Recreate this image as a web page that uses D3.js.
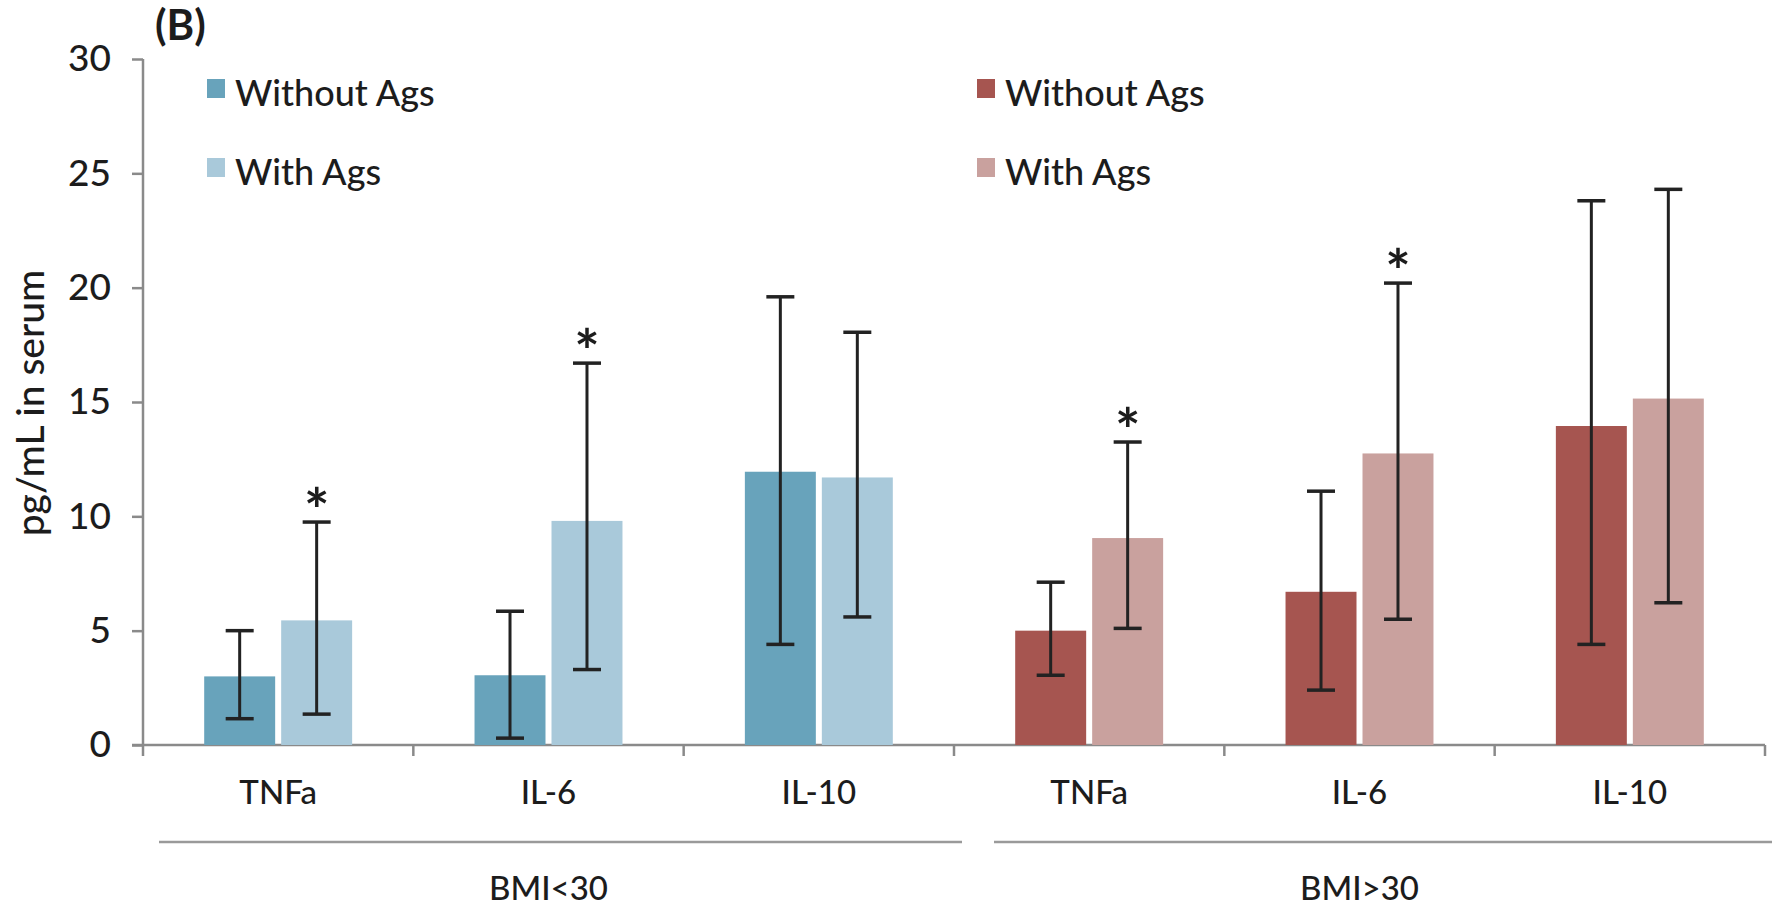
<!DOCTYPE html>
<html>
<head>
<meta charset="utf-8">
<script src="https://cdn.jsdelivr.net/npm/d3@7"></script>
<style>
  html, body { margin: 0; padding: 0; background: #fff; }
  svg { display: block; }
  text { font-family: Lato, "Open Sans", sans-serif; fill: #1c1c1c; font-weight: 500; }
</style>
</head>
<body>
<svg id="chart" width="1772" height="908"></svg>
<script>
// Serum cytokine levels (pg/mL), grouped by BMI class
const groups = ["BMI<30", "BMI>30"];
const cytokines = ["TNFa", "IL-6", "IL-10"];
const seriesNames = ["Without Ags", "With Ags"];
const yTicks = [0, 5, 10, 15, 20, 25, 30];

// one entry per (group, cytokine): BMI<30 TNFa, IL-6, IL-10, BMI>30 TNFa, IL-6, IL-10
const withoutAgs     = [3.0, 3.05, 11.95, 5.0, 6.7, 13.95];
const withoutAgsLow  = [1.15, 0.3, 4.4, 3.05, 2.4, 4.4];
const withoutAgsHigh = [5.0, 5.85, 19.6, 7.12, 11.1, 23.8];
const withAgs        = [5.45, 9.8, 11.7, 9.05, 12.75, 15.15];
const withAgsLow     = [1.35, 3.3, 5.6, 5.1, 5.5, 6.22];
const withAgsHigh    = [9.75, 16.7, 18.05, 13.25, 20.2, 24.3];
const withAgsSignificant = [true, true, false, true, true, false];

const groupColors = {
  "BMI<30": ["#68a3bb", "#a9c9da"],
  "BMI>30": ["#a65550", "#c9a19e"]
};

const svg = d3.select("#chart");

const categories = [];
groups.forEach(g => cytokines.forEach(c => categories.push({ group: g, cytokine: c, key: g + "|" + c })));

const rows = categories.map((cat, i) => ({
  ...cat,
  series: [
    { name: seriesNames[0], value: withoutAgs[i], low: withoutAgsLow[i], high: withoutAgsHigh[i], star: false },
    { name: seriesNames[1], value: withAgs[i], low: withAgsLow[i], high: withAgsHigh[i], star: withAgsSignificant[i] }
  ]
}));

const plotLeft = 143, plotRight = 1765, plotTop = 59, plotBottom = 745;

const x = d3.scaleBand().domain(categories.map(d => d.key)).range([plotLeft, plotRight]).padding(0);
const xInner = d3.scaleBand().domain(seriesNames).range([0, x.bandwidth()])
  .paddingInner(0.078).paddingOuter(0.795);
const y = d3.scaleLinear().domain([0, 30]).range([plotBottom, plotTop]);

// y axis
const yAxis = svg.append("g").attr("transform", `translate(${plotLeft},0)`)
  .call(d3.axisLeft(y).tickValues(yTicks).tickSize(11).tickPadding(21));
yAxis.select(".domain").attr("stroke", "#8a8a8a").attr("stroke-width", 2.5)
  .attr("d", `M0,${plotTop}V${plotBottom}`);
yAxis.selectAll(".tick line").attr("stroke", "#8a8a8a").attr("stroke-width", 2.5);
yAxis.selectAll(".tick text").style("font-size", "37px").style("font-family", "Lato, sans-serif")
  .style("font-weight", "500").attr("fill", "#1c1c1c");

// x axis with boundary ticks
const xAxisG = svg.append("g");
xAxisG.append("line")
  .attr("x1", plotLeft - 11).attr("x2", plotRight)
  .attr("y1", plotBottom).attr("y2", plotBottom)
  .attr("stroke", "#8a8a8a").attr("stroke-width", 2.5);
const boundaries = categories.map(d => x(d.key)).concat([x(categories[categories.length - 1].key) + x.bandwidth()]);
xAxisG.selectAll("line.bound").data(boundaries).join("line")
  .attr("class", "bound")
  .attr("x1", d => d).attr("x2", d => d)
  .attr("y1", plotBottom).attr("y2", plotBottom + 11)
  .attr("stroke", "#8a8a8a").attr("stroke-width", 2.5);

xAxisG.selectAll("text.cat").data(categories).join("text")
  .attr("class", "cat")
  .attr("x", d => x(d.key) + x.bandwidth() / 2)
  .attr("y", 804)
  .attr("text-anchor", "middle")
  .style("font-size", "33px")
  .text(d => d.cytokine);

// group brackets and labels
groups.forEach((g, gi) => {
  const keys = categories.filter(c => c.group === g).map(c => c.key);
  const x0 = x(keys[0]), x1 = x(keys[keys.length - 1]) + x.bandwidth();
  svg.append("line")
    .attr("x1", gi === 0 ? x0 + 16 : x0 + 40).attr("x2", gi === 0 ? x1 + 8 : 1772)
    .attr("y1", 842).attr("y2", 842)
    .attr("stroke", "#9a9a9a").attr("stroke-width", 2.5);
  svg.append("text")
    .attr("x", (x0 + x1) / 2).attr("y", 900)
    .attr("text-anchor", "middle")
    .style("font-size", "33px")
    .text(g);
});

// bars
const cat = svg.selectAll("g.cat").data(rows).join("g")
  .attr("class", "cat")
  .attr("transform", d => `translate(${x(d.key)},0)`);

cat.selectAll("rect").data(d => d.series.map((s, i) => ({ ...s, color: groupColors[d.group][i] }))).join("rect")
  .attr("x", d => xInner(d.name))
  .attr("width", xInner.bandwidth())
  .attr("y", d => y(d.value))
  .attr("height", d => y(0) - y(d.value))
  .attr("fill", d => d.color);

// error bars
const err = cat.selectAll("g.err").data(d => d.series).join("g")
  .attr("class", "err")
  .attr("transform", d => `translate(${xInner(d.name) + xInner.bandwidth() / 2},0)`);
err.append("line")
  .attr("y1", d => y(d.low)).attr("y2", d => y(d.high))
  .attr("stroke", "#222").attr("stroke-width", 3);
err.append("line")
  .attr("x1", -14).attr("x2", 14)
  .attr("y1", d => y(d.high)).attr("y2", d => y(d.high))
  .attr("stroke", "#222").attr("stroke-width", 3.5);
err.append("line")
  .attr("x1", -14).attr("x2", 14)
  .attr("y1", d => y(d.low)).attr("y2", d => y(d.low))
  .attr("stroke", "#222").attr("stroke-width", 3.5);

// significance markers
err.filter(d => d.star).append("text")
  .attr("y", d => y(d.high) + 10)
  .attr("text-anchor", "middle")
  .style("font-size", "60px")
  .style("font-weight", "bold")
  .text("*");

// y axis title
svg.append("text")
  .attr("transform", "translate(44,403) rotate(-90)")
  .attr("text-anchor", "middle")
  .style("font-size", "39px")
  .text("pg/mL in serum");

// panel letter
svg.append("text")
  .attr("x", 155).attr("y", 40)
  .style("font-size", "42px")
  .style("font-weight", "bold")
  .text("(B)");

// legends
const legendSpecs = [
  { x: 207, colors: groupColors["BMI<30"] },
  { x: 977, colors: groupColors["BMI>30"] }
];
legendSpecs.forEach(spec => {
  const lg = svg.append("g").attr("transform", `translate(${spec.x},0)`);
  const items = lg.selectAll("g").data(seriesNames).join("g")
    .attr("transform", (d, i) => `translate(0,${79 + i * 79})`);
  items.append("rect").attr("width", 18).attr("height", 19)
    .attr("fill", (d, i) => spec.colors[i]);
  items.append("text").attr("x", 28).attr("y", 27)
    .style("font-size", "36px")
    .text(d => d);
});
</script>
</body>
</html>
